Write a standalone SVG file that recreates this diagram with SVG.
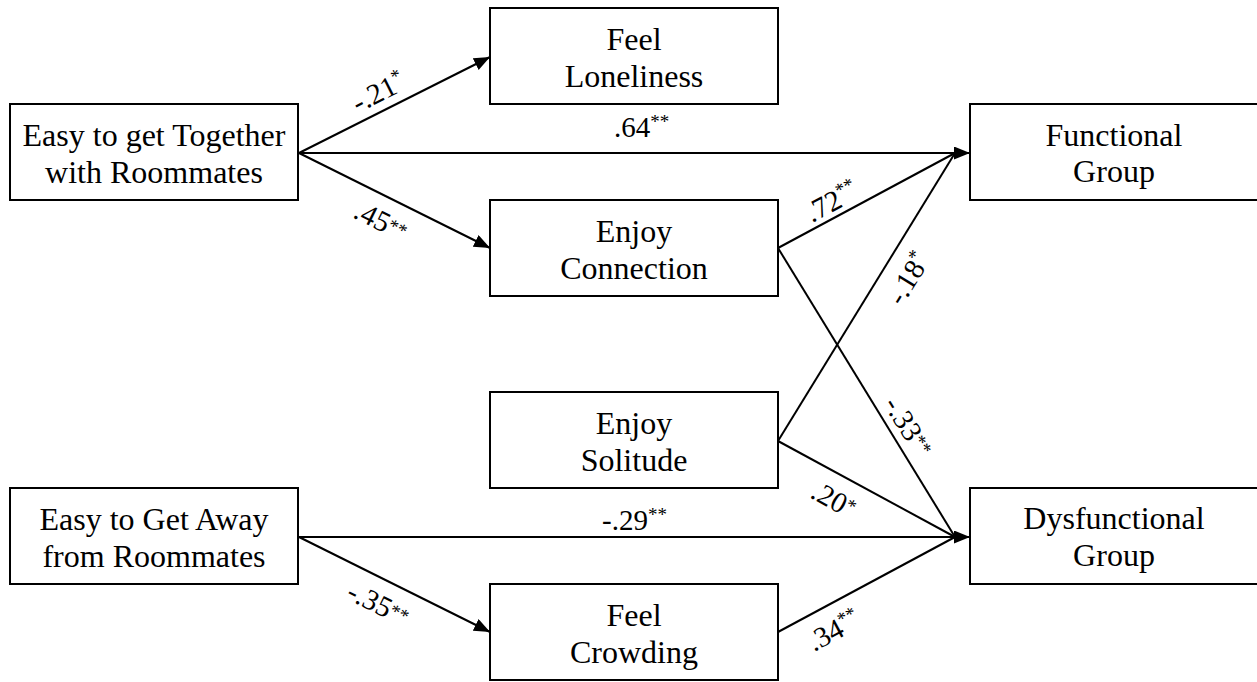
<svg xmlns="http://www.w3.org/2000/svg" width="1257" height="682" viewBox="0 0 1257 682">
<style>
.box{fill:#fff;stroke:#000;stroke-width:2}
.nt{font-family:'Liberation Serif','Times New Roman','DejaVu Serif',serif;font-size:32px;fill:#000;text-anchor:middle}
.ln{stroke:#000;stroke-width:2;fill:none}
.lb{font-family:'Liberation Serif','Times New Roman','DejaVu Serif',serif;font-size:29px;fill:#000}
.sup{font-size:19px}
</style>
<defs>
<marker id="ah" markerUnits="userSpaceOnUse" markerWidth="16" markerHeight="13" refX="16" refY="6.5" orient="auto">
<path d="M0,0 L16,6.5 L0,13 z" fill="#000"/>
</marker>
</defs>
<rect width="1257" height="682" fill="#fff"/>
<g id="connectors">
<line class="ln" x1="299" y1="153" x2="490" y2="57" marker-end="url(#ah)"/>
<line class="ln" x1="299" y1="153" x2="490" y2="248" marker-end="url(#ah)"/>
<line class="ln" x1="299" y1="153" x2="970" y2="153" marker-end="url(#ah)"/>
<line class="ln" x1="778" y1="248" x2="955" y2="153"/>
<line class="ln" x1="778" y1="248" x2="955" y2="537"/>
<line class="ln" x1="778" y1="441" x2="955" y2="153"/>
<line class="ln" x1="778" y1="441" x2="955" y2="537"/>
<line class="ln" x1="299" y1="537" x2="970" y2="537" marker-end="url(#ah)"/>
<line class="ln" x1="299" y1="537" x2="490" y2="632" marker-end="url(#ah)"/>
<line class="ln" x1="778" y1="632" x2="955" y2="537"/>
</g>
<g id="edge-labels">
<text class="lb" transform="translate(358,113) rotate(-26.7)">-.21<tspan class="sup" dy="-10">*</tspan></text>
<text class="lb" transform="translate(352,217) rotate(26.4)">.45<tspan class="sup" dy="-4">**</tspan></text>
<text class="lb" x="614" y="137">.64<tspan class="sup" dy="-9">**</tspan></text>
<text class="lb" transform="translate(812,223) rotate(-28.2)">.72<tspan class="sup" dy="-10">**</tspan></text>
<text class="lb" transform="translate(902,307) rotate(-58.4)">-.18<tspan class="sup" dy="-10">*</tspan></text>
<text class="lb" transform="translate(883,404) rotate(58.5)">-.33<tspan class="sup" dy="-6">**</tspan></text>
<text class="lb" transform="translate(809,497) rotate(28.5)">.20<tspan class="sup" dy="-6">*</tspan></text>
<text class="lb" x="602" y="530">-.29<tspan class="sup" dy="-9">**</tspan></text>
<text class="lb" transform="translate(345,598) rotate(26.4)">-.35<tspan class="sup" dy="-4">**</tspan></text>
<text class="lb" transform="translate(814,652) rotate(-28.2)">.34<tspan class="sup" dy="-10">**</tspan></text>
</g>
<g id="together">
<rect class="box" x="10" y="104" width="288" height="96"/>
<text class="nt" x="154" y="146">Easy to get Together</text>
<text class="nt" x="154" y="183">with Roommates</text>
</g>
<g id="loneliness">
<rect class="box" x="490" y="8" width="288" height="96"/>
<text class="nt" x="634" y="50">Feel</text>
<text class="nt" x="634" y="87">Loneliness</text>
</g>
<g id="connection">
<rect class="box" x="490" y="200" width="288" height="96"/>
<text class="nt" x="634" y="242">Enjoy</text>
<text class="nt" x="634" y="279">Connection</text>
</g>
<g id="solitude">
<rect class="box" x="490" y="392" width="288" height="96"/>
<text class="nt" x="634" y="434">Enjoy</text>
<text class="nt" x="634" y="471">Solitude</text>
</g>
<g id="away">
<rect class="box" x="10" y="488" width="288" height="96"/>
<text class="nt" x="154" y="530">Easy to Get Away</text>
<text class="nt" x="154" y="567">from Roommates</text>
</g>
<g id="crowding">
<rect class="box" x="490" y="584" width="288" height="96"/>
<text class="nt" x="634" y="626">Feel</text>
<text class="nt" x="634" y="663">Crowding</text>
</g>
<g id="functional">
<rect class="box" x="970" y="104" width="288" height="96"/>
<text class="nt" x="1114" y="146">Functional</text>
<text class="nt" x="1114" y="182">Group</text>
</g>
<g id="dysfunctional">
<rect class="box" x="970" y="488" width="288" height="96"/>
<text class="nt" x="1114" y="529">Dysfunctional</text>
<text class="nt" x="1114" y="566">Group</text>
</g>
</svg>
